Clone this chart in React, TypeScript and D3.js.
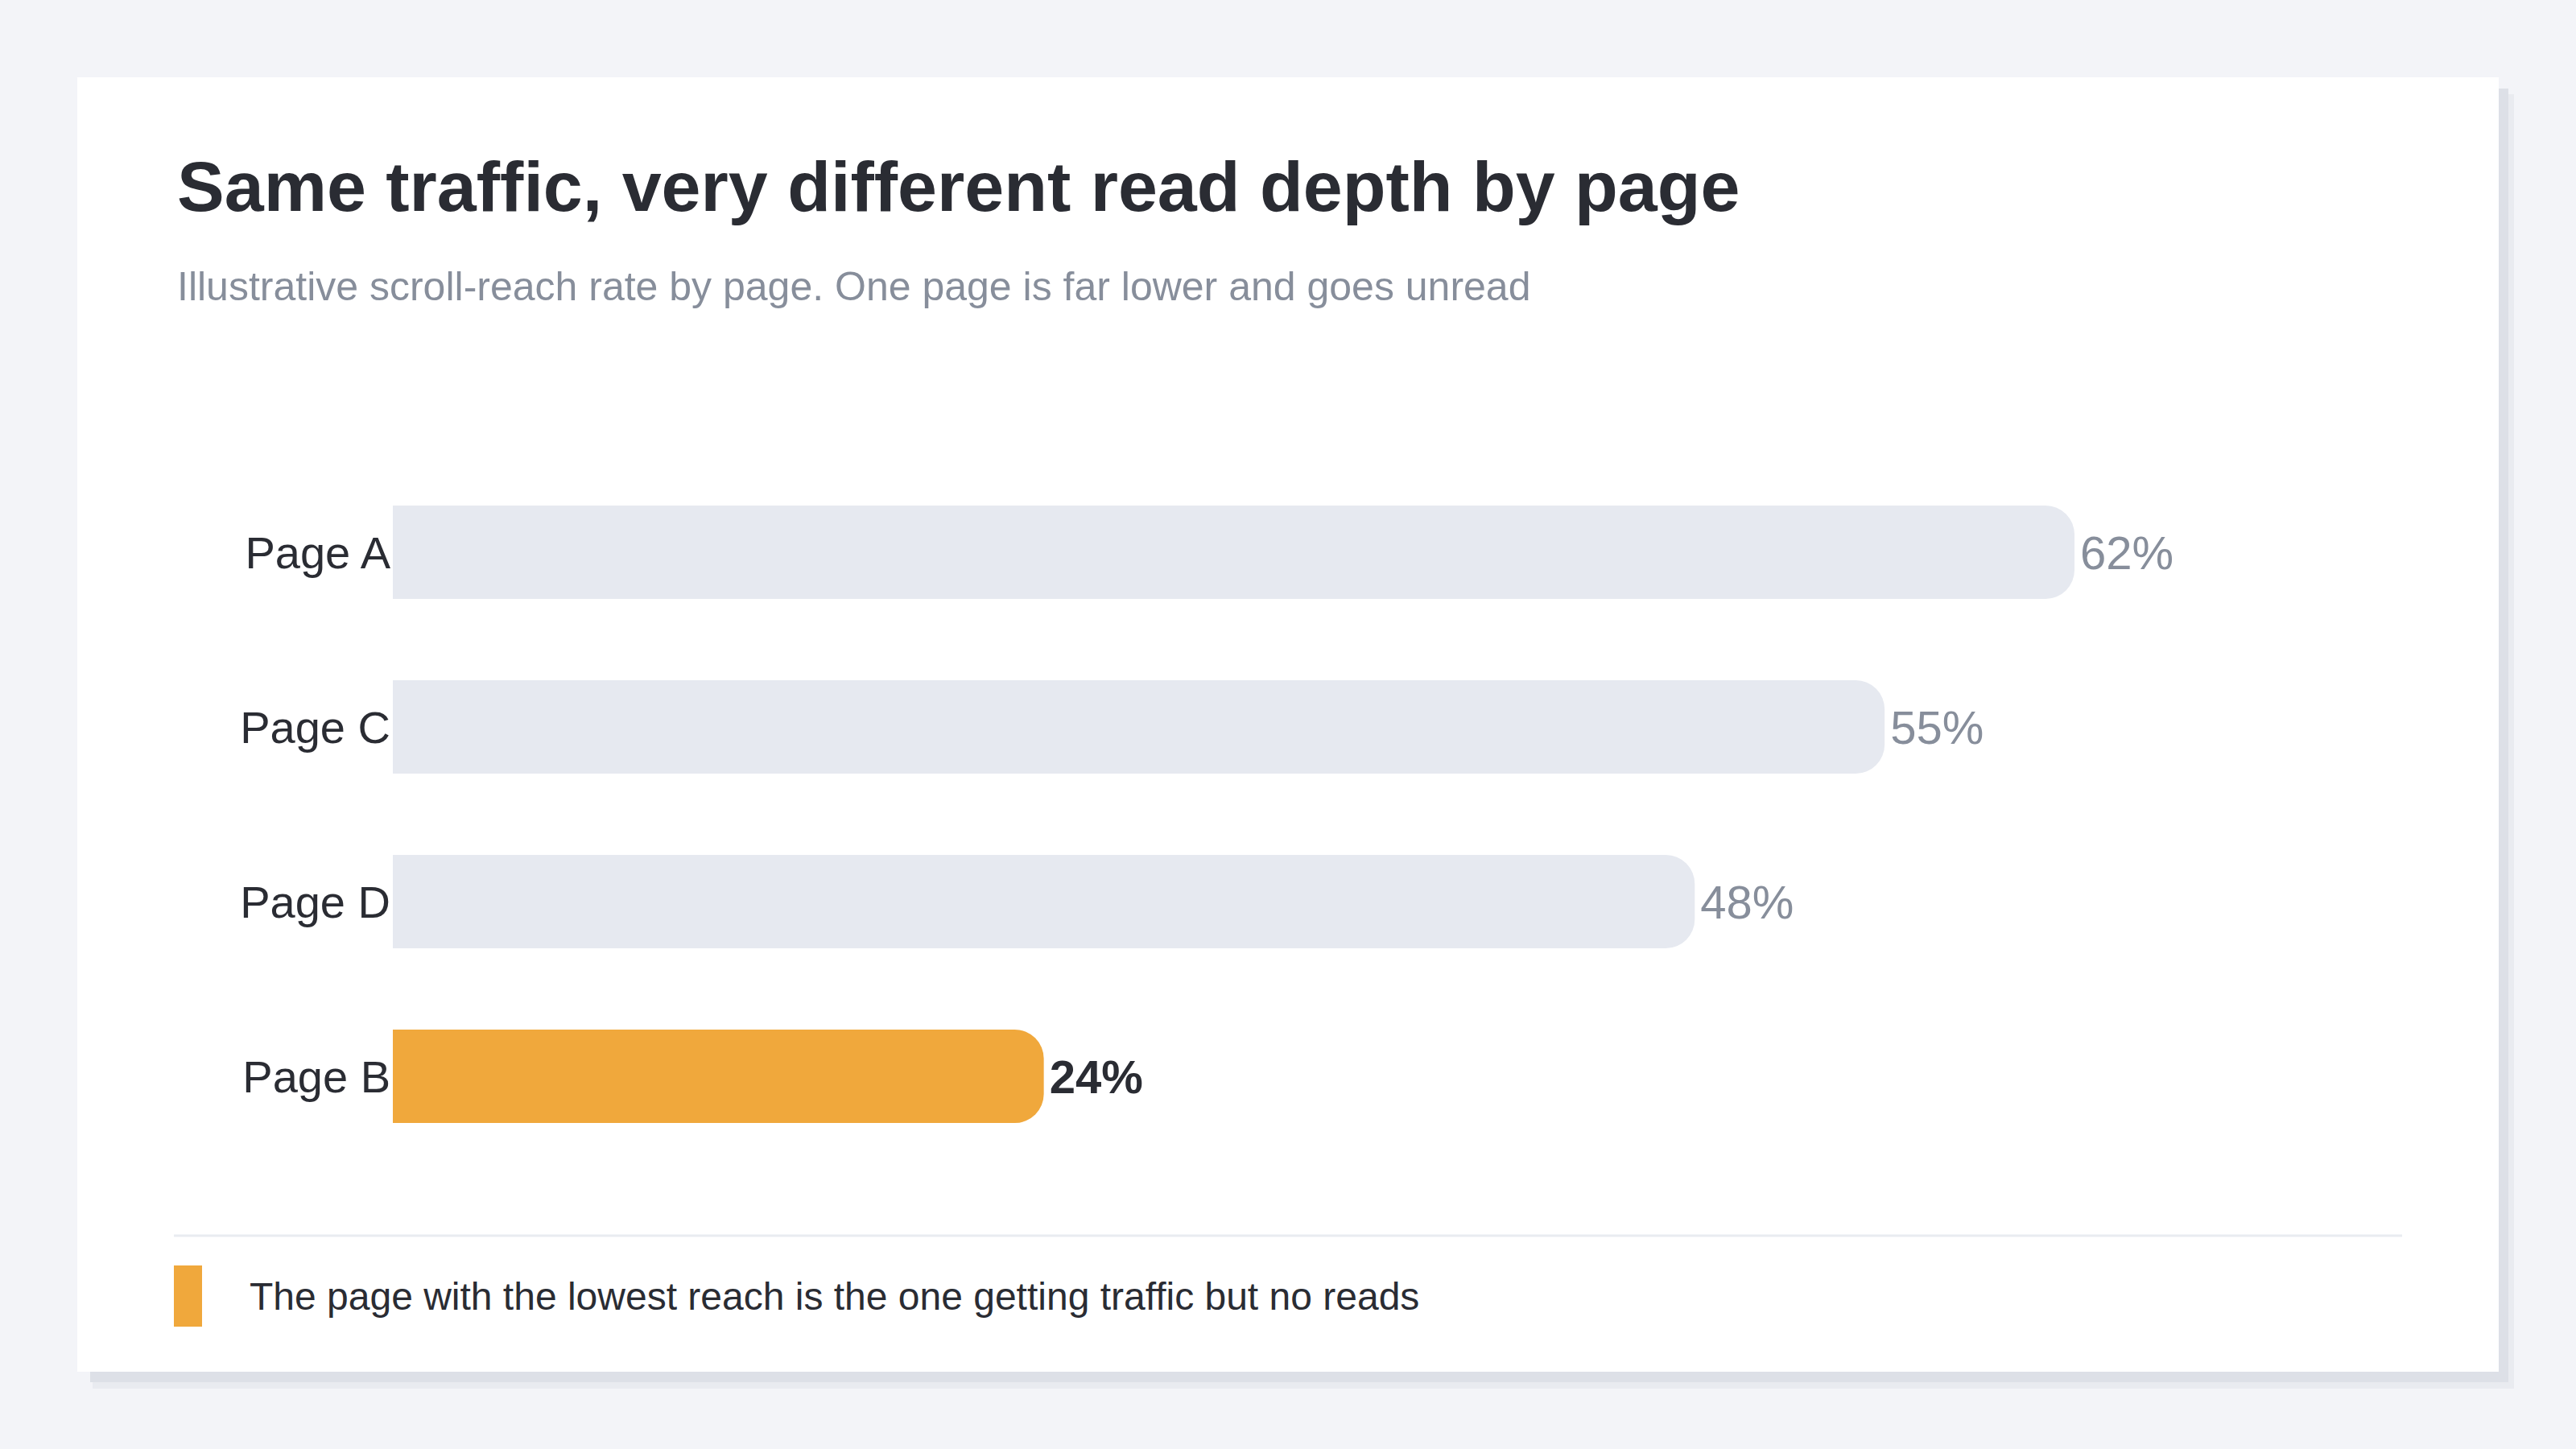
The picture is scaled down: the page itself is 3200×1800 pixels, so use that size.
import React from "react";
import * as d3 from "d3";

const pages: string[] = ["Page A", "Page C", "Page D", "Page B"];
const reach: number[] = [62, 55, 48, 24];
const highlightPage = "Page B";

const titleText = "Same traffic, very different read depth by page";
const subtitleText =
  "Illustrative scroll-reach rate by page. One page is far lower and goes unread";
const legendText =
  "The page with the lowest reach is the one getting traffic but no reads";

const W = 3200;
const H = 1800;
const FONT = "'Liberation Sans', Arial, Helvetica, sans-serif";

function barPath(x0: number, x1: number, y: number, h: number, r: number) {
  const rr = Math.min(r, h / 2, Math.max(0, x1 - x0));
  const p = d3.path();
  p.moveTo(x0, y);
  p.lineTo(x1 - rr, y);
  p.arcTo(x1, y, x1, y + rr, rr);
  p.lineTo(x1, y + h - rr);
  p.arcTo(x1, y + h, x1 - rr, y + h, rr);
  p.lineTo(x0, y + h);
  p.closePath();
  return p.toString();
}

export default function App() {
  const data = pages.map((p, i) => ({ page: p, value: reach[i] }));

  const x = d3
    .scaleLinear()
    .domain([0, d3.max(reach) as number])
    .range([488, 2577]);

  const y = d3
    .scaleBand<string>()
    .domain(pages)
    .range([577.5, 1445.5])
    .paddingInner(0.465)
    .paddingOuter(0.2325);

  const bw = y.bandwidth();
  const labelSize = 56;
  const valueSize = 58;

  return (
    <svg
      width={W}
      height={H}
      viewBox={`0 0 ${W} ${H}`}
      style={{ position: "absolute", left: 0, top: 0, display: "block" }}
      fontFamily={FONT}
    >
      <rect x={0} y={0} width={W} height={H} fill="#f3f4f8" />
      {/* card shadow */}
      <rect x={115} y={117} width={3008} height={1608} fill="#e9ebf0" />
      <rect x={112} y={110} width={3004} height={1607} fill="#dde0e7" />
      {/* card */}
      <rect x={96} y={96} width={3008} height={1608} fill="#ffffff" />

      <text
        x={220}
        y={262}
        fontSize={88}
        fontWeight={700}
        fill="#2a2c33"
      >
        {titleText}
      </text>
      <text x={220} y={373} fontSize={50} fill="#878e9b">
        {subtitleText}
      </text>

      {data.map((d) => {
        const yy = y(d.page) as number;
        const hi = d.page === highlightPage;
        const cy = yy + bw / 2;
        return (
          <g key={d.page}>
            <path
              d={barPath(x(0), x(d.value), yy, bw, 36)}
              fill={hi ? "#f0a83c" : "#e6e9f0"}
            />
            <text
              x={x(0) - 3}
              y={cy + labelSize * 0.36}
              textAnchor="end"
              fontSize={labelSize}
              fill="#2a2c33"
            >
              {d.page}
            </text>
            <text
              x={x(d.value) + 7}
              y={cy + valueSize * 0.36}
              fontSize={valueSize}
              fontWeight={hi ? 700 : 400}
              fill={hi ? "#2a2c33" : "#878e9b"}
            >
              {`${d.value}%`}
            </text>
          </g>
        );
      })}

      <line
        x1={216}
        x2={2984}
        y1={1535}
        y2={1535}
        stroke="#e9ecf1"
        strokeWidth={3}
      />
      <rect x={216} y={1572} width={35} height={76} fill="#f0a83c" />
      <text x={310} y={1627} fontSize={48} fill="#2a2c33">
        {legendText}
      </text>
    </svg>
  );
}
